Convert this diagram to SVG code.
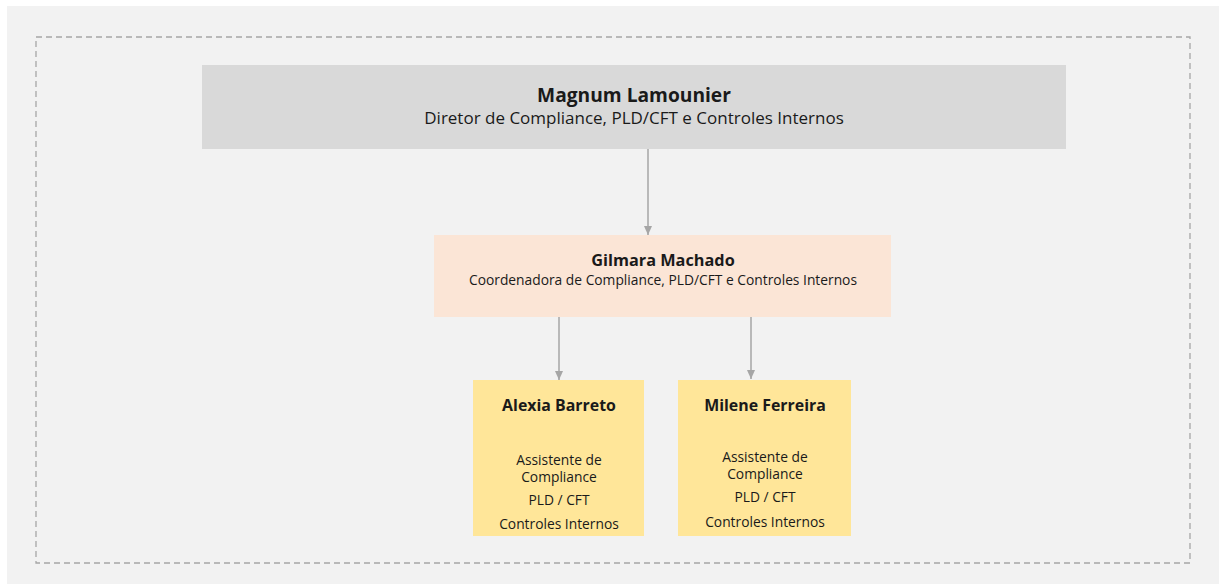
<svg xmlns="http://www.w3.org/2000/svg" width="1219" height="584" viewBox="0 0 1219 584">
<defs>
<marker id="arr" markerWidth="10" markerHeight="8" refX="9" refY="4" orient="auto" markerUnits="userSpaceOnUse">
<path d="M0,0 L9,4 L0,8 Z" fill="#a6a6a6"/>
</marker>
<style>
text{font-family:"Open Sans","Liberation Sans",sans-serif;fill:#1a1a1a;text-anchor:middle}
.b{font-weight:bold}
.s{font-size:13.8px}
.conn line{stroke:#a6a6a6;stroke-width:1.5;marker-end:url(#arr)}
</style>
</defs>
<rect x="0" y="0" width="1219" height="584" fill="#ffffff"/>
<rect x="7" y="6" width="1212" height="578" fill="#f2f2f2"/>
<rect x="36" y="37" width="1154" height="526" fill="none" stroke="#a6a6a6" stroke-width="1.3" stroke-dasharray="6,4"/>
<g id="n-magnum">
<rect x="202" y="65" width="864" height="84" fill="#d9d9d9"/>
<text class="b" x="634" y="102" font-size="19.2">Magnum Lamounier</text>
<text x="634" y="124" font-size="17">Diretor de Compliance, PLD/CFT e Controles Internos</text>
</g>
<g id="n-gilmara">
<rect x="434" y="235" width="457" height="82" fill="#fbe5d6"/>
<text class="b" x="663" y="266" font-size="16.3">Gilmara Machado</text>
<text x="663" y="285" font-size="13.8">Coordenadora de Compliance, PLD/CFT e Controles Internos</text>
</g>
<g id="n-alexia">
<rect x="473" y="380" width="171" height="156" fill="#ffe699"/>
<text class="b" x="559" y="411" font-size="15.9">Alexia Barreto</text>
<text class="s" x="559" y="465">Assistente de</text>
<text class="s" x="559" y="482">Compliance</text>
<text class="s" x="559" y="505">PLD / CFT</text>
<text class="s" x="559" y="529">Controles Internos</text>
</g>
<g id="n-milene">
<rect x="678" y="380" width="173" height="156" fill="#ffe699"/>
<text class="b" x="765" y="411" font-size="15.9">Milene Ferreira</text>
<text class="s" x="765" y="462">Assistente de</text>
<text class="s" x="765" y="479">Compliance</text>
<text class="s" x="765" y="502">PLD / CFT</text>
<text class="s" x="765" y="527">Controles Internos</text>
</g>
<g id="connectors" class="conn">
<line x1="648" y1="149" x2="648" y2="235"/>
<line x1="559" y1="317" x2="559" y2="380"/>
<line x1="751" y1="317" x2="751" y2="379"/>
</g>
</svg>
